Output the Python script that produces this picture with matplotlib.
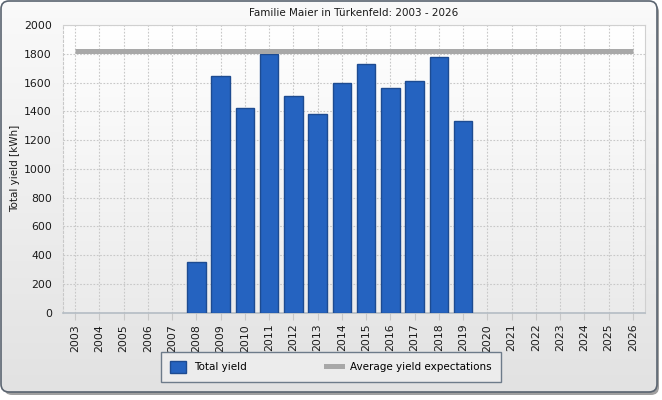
import numpy as np
import matplotlib
matplotlib.use("Agg")
import matplotlib.pyplot as plt
from matplotlib.patches import FancyBboxPatch, Patch
from matplotlib.lines import Line2D

# data
years = [str(y) for y in range(2003, 2027)]
yield_years = ["2008", "2009", "2010", "2011", "2012", "2013",
               "2014", "2015", "2016", "2017", "2018", "2019"]
total_yield = [350, 1642, 1420, 1796, 1504, 1379,
               1597, 1727, 1560, 1611, 1775, 1330]
avg_expect = 1820

BAR = "#2563c0"
BAR_EDGE = "#1d4b91"
AVG = "#a8a8a8"
TXT = "#1a1a1a"

W, H = 662, 400
fig = plt.figure(figsize=(W / 100, H / 100), dpi=100)
fig.patch.set_facecolor("white")

# outer panel with gradient
bg = fig.add_axes([0, 0, 1, 1])
bg.set_xlim(0, W)
bg.set_ylim(H, 0)
bg.axis("off")
grad = np.linspace(1.0, 0.0, 256).reshape(-1, 1)
shadow = FancyBboxPatch((4, 4), W - 7, H - 9,
                        boxstyle="round,pad=0,rounding_size=8",
                        fc="#a0a0a0", ec="none", zorder=0)
bg.add_patch(shadow)
frame = FancyBboxPatch((1, 1), W - 6, H - 9,
                       boxstyle="round,pad=0,rounding_size=8",
                       fc="none", ec="#5a6470", lw=1.2, zorder=3)
bg.add_patch(frame)
im = bg.imshow(grad, cmap=matplotlib.colors.LinearSegmentedColormap.from_list(
    "g", ["#e2e2e2", "#fafafa"]), extent=(1, W - 5, H - 8, 1),
    aspect="auto", zorder=1)
im.set_clip_path(frame)

# plot area
left, right, top, bottom = 63, 645, 25, 312.7
ax = fig.add_axes([left / W, 1 - bottom / H, (right - left) / W, (bottom - top) / H])
ax.set_xlim(-0.5, len(years) - 0.5)
ax.set_ylim(0, 2000)
ax.imshow(grad, cmap=matplotlib.colors.LinearSegmentedColormap.from_list(
    "p", ["#ebebeb", "#ffffff"]), extent=(-0.5, len(years) - 0.5, 0, 2000),
    aspect="auto", zorder=0)

x_idx = [years.index(y) for y in yield_years]
ax.bar(x_idx, total_yield, width=0.76, color=BAR, edgecolor=BAR_EDGE,
       linewidth=1.0, zorder=3)
ax.plot([0, len(years) - 1], [avg_expect, avg_expect], color=AVG, lw=3.6,
        solid_capstyle="butt", zorder=4)

ax.set_xticks(range(len(years)))
ax.set_xticklabels(years, rotation=90, fontsize=7.8, color=TXT)
ax.set_yticks(range(0, 2001, 200))
ax.tick_params(axis="y", labelsize=7.8, colors=TXT, length=0, pad=8)
ax.tick_params(axis="x", length=5, color="#c8c8c8", pad=3)
ax.grid(True, color="#c8c8c8", linestyle=(0, (1.5, 1.5)), lw=0.8, zorder=1)
ax.set_axisbelow(True)
for s in ["top", "right"]:
    ax.spines[s].set_color("#d0d0d0")
    ax.spines[s].set_linewidth(0.8)
ax.spines["left"].set_color("#c8c8c8")
ax.spines["left"].set_linestyle((0, (2, 2)))
ax.spines["bottom"].set_color("#b4bcc4")
ax.spines["bottom"].set_linewidth(1.2)

ax.set_ylabel("Total yield [kWh]", fontsize=7.5, color=TXT, labelpad=3)
fig.text((left + right) / 2 / W, 1 - 13 / H, "Familie Maier in Türkenfeld: 2003 - 2026",
         ha="center", va="center", fontsize=7.5, color=TXT)

handles = [Patch(facecolor=BAR, edgecolor=BAR_EDGE, label="Total yield"),
           Line2D([], [], color=AVG, lw=3.6, label="Average yield expectations")]
leg = fig.legend(handles=handles, loc="center", bbox_to_anchor=(331 / W, 1 - 367 / H),
                 ncol=2, fontsize=7.5, frameon=True, fancybox=False,
                 edgecolor="#6d7b8a", facecolor="#ececec", framealpha=1,
                 handlelength=1.5, handleheight=1.5, columnspacing=7.6,
                 borderpad=0.85, handletextpad=0.8)
leg.get_frame().set_linewidth(1.0)

fig.savefig("out.png", dpi=100)
